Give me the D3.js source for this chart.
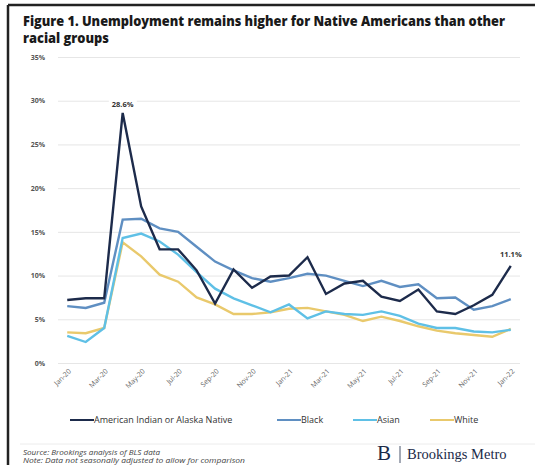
<!DOCTYPE html>
<html><head><meta charset="utf-8">
<script src="https://cdn.jsdelivr.net/npm/d3@7"></script>
<style>body{margin:0;background:#fff}svg{display:block}</style>
</head><body>
<script>
const months = ["Jan-20","Feb-20","Mar-20","Apr-20","May-20","Jun-20","Jul-20","Aug-20","Sep-20","Oct-20","Nov-20","Dec-20",
  "Jan-21","Feb-21","Mar-21","Apr-21","May-21","Jun-21","Jul-21","Aug-21","Sep-21","Oct-21","Nov-21","Dec-21","Jan-22"];
const tickLabels = ["Jan-20","Mar-20","May-20","Jul-20","Sep-20","Nov-20","Jan-21","Mar-21","May-21","Jul-21","Sep-21","Nov-21","Jan-22"];
const yTicks = [0,5,10,15,20,25,30,35];
const aian  = [7.2,7.4,7.4,28.6,17.9,13.0,13.0,10.6,6.8,10.7,8.6,9.9,10.0,12.1,7.9,9.1,9.4,7.6,7.1,8.4,5.9,5.6,6.6,7.8,11.1];
const black = [6.5,6.3,6.9,16.4,16.5,15.4,15.0,13.3,11.6,10.6,9.7,9.3,9.7,10.2,10.0,9.4,8.8,9.4,8.7,9.0,7.4,7.5,6.1,6.5,7.3];
const asian = [3.1,2.4,4.0,14.3,14.8,13.9,12.4,10.4,8.5,7.4,6.6,5.8,6.7,5.1,5.9,5.6,5.5,5.9,5.4,4.5,4.0,4.0,3.6,3.5,3.8];
const white = [3.5,3.4,4.0,13.8,12.2,10.1,9.3,7.5,6.7,5.6,5.6,5.8,6.2,6.3,5.9,5.5,4.8,5.3,4.8,4.2,3.7,3.4,3.2,3.0,3.9];
const seriesNames = ["American Indian or Alaska Native","Black","Asian","White"];
const seriesColors = ["#1d2b4b","#5f8fc2","#5fc0e6","#e9c96c"];
const annotations = [{i:3, v:28.6},{i:24, v:11.1}];

const W=535,H=465;
const svg=d3.select("body").append("svg").attr("width",W).attr("height",H);
svg.append("rect").attr("width",W).attr("height",H).attr("fill","#fff");
// frame
svg.append("line").attr("x1",8).attr("x2",W).attr("y1",5).attr("y2",5).attr("stroke","#222").attr("stroke-width",2.5);
svg.append("line").attr("x1",8).attr("x2",8).attr("y1",5).attr("y2",H).attr("stroke","#222").attr("stroke-width",2.5);

const title = svg.append("g").attr("font-family","'Open Sans', Arial, sans-serif").attr("font-weight","800").attr("fill","#1a1a1a");
title.append("text").attr("x",23).attr("y",26).attr("font-size",13.5)
  .attr("textLength",482).attr("lengthAdjust","spacingAndGlyphs")
  .text("Figure 1. Unemployment remains higher for Native Americans than other");
title.append("text").attr("x",23).attr("y",43).attr("font-size",13.5)
  .attr("textLength",86).attr("lengthAdjust","spacingAndGlyphs")
  .text("racial groups");

const x=d3.scalePoint().domain(months).range([58,520]).padding(0.5);
const y=d3.scaleLinear().domain([0,35]).range([363,57]);

const yAxis=svg.append("g").attr("transform","translate(58,0)")
  .call(d3.axisLeft(y).tickValues(yTicks).tickSize(-462).tickFormat(d=>d+"%"));
yAxis.select(".domain").remove();
yAxis.selectAll(".tick line").attr("stroke","#e6e6e6").attr("stroke-width",1);
yAxis.selectAll(".tick text").attr("x",-13).attr("font-family","'Open Sans', sans-serif").attr("font-size",7).attr("font-weight","bold").attr("fill","#555");

const xAxis=svg.append("g").attr("transform","translate(0,363)")
  .call(d3.axisBottom(x).tickValues(tickLabels).tickSize(0));
xAxis.select(".domain").remove();
xAxis.selectAll(".tick text").attr("font-family","'Open Sans', sans-serif").attr("font-size",7).attr("fill","#666")
  .attr("text-anchor","end").attr("transform","translate(2,7) rotate(-45)").attr("dy","0.35em").attr("y",0).attr("x",0);

const data={aian,black,asian,white};
const keys=["aian","black","asian","white"];
const line=d3.line().x((d,i)=>x(months[i])).y(d=>y(d));
[3,2,1,0].forEach(k=>{
  svg.append("path").datum(data[keys[k]]).attr("d",line).attr("fill","none")
    .attr("stroke",seriesColors[k]).attr("stroke-width",2.4).attr("stroke-linejoin","miter");
});

annotations.forEach(a=>{
  const g=svg.append("g");
  const t=g.append("text").attr("x",x(months[a.i])).attr("y",y(a.v)-(a.i===3?6:9)).attr("text-anchor","middle")
    .attr("font-family","'Open Sans', sans-serif").attr("font-size",7.5).attr("font-weight","bold").attr("fill","#333").text(a.v.toFixed(1)+"%");
  const bb=t.node().getBBox();
  g.insert("rect","text").attr("x",bb.x-3).attr("y",bb.y-1).attr("width",bb.width+6).attr("height",bb.height+2).attr("fill","#fff");
});

// legend
const legX=[70,277,353,430];
const leg=svg.append("g").attr("font-family","'Open Sans', sans-serif").attr("font-size",9).attr("fill","#333");
seriesNames.forEach((n,i)=>{
  leg.append("line").attr("x1",legX[i]).attr("x2",legX[i]+24).attr("y1",420).attr("y2",420).attr("stroke",seriesColors[i]).attr("stroke-width",2);
  leg.append("text").attr("x",legX[i]+24).attr("y",423).text(n);
});

svg.append("line").attr("x1",20).attr("x2",W).attr("y1",444).attr("y2",444).attr("stroke","#ececec");
const src=svg.append("g").attr("font-family","'Open Sans', sans-serif").attr("font-size",6.5).attr("font-style","italic").attr("fill","#444");
src.append("text").attr("x",23).attr("y",455).attr("textLength",137).attr("lengthAdjust","spacingAndGlyphs").text("Source: Brookings analysis of BLS data");
src.append("text").attr("x",23).attr("y",462.5).attr("textLength",222).attr("lengthAdjust","spacingAndGlyphs").text("Note: Data not seasonally adjusted to allow for comparison");

const logo=svg.append("g").attr("fill","#1b2a48").attr("font-family","'Liberation Serif', 'DejaVu Serif', serif");
logo.append("text").attr("x",377).attr("y",460).attr("font-size",21).text("B");
logo.append("line").attr("x1",400).attr("x2",400).attr("y1",446).attr("y2",463).attr("stroke","#1b2a48").attr("stroke-width",0.8);
logo.append("text").attr("x",407).attr("y",459).attr("font-size",14.5).text("Brookings Metro");
</script>
</body></html>
